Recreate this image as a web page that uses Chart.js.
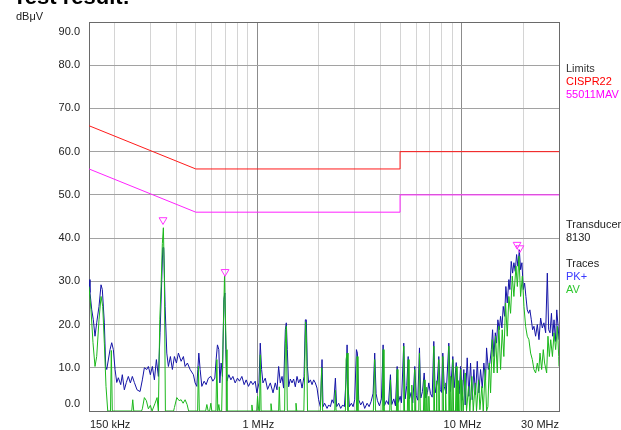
<!DOCTYPE html>
<html>
<head>
<meta charset="utf-8">
<script src="https://cdn.jsdelivr.net/npm/chart.js@4.4.1/dist/chart.umd.min.js"></script>
<style>
  html, body { margin: 0; padding: 0; background: #fff; }
  canvas { display: block; }
</style>
</head>
<body>
<canvas id="emiChart" width="621" height="430"></canvas>
<script>
// limit lines, [MHz, dBuV]
const cispr22Limit = [[0.15, 66], [0.5, 56], [5, 56], [5, 60], [30, 60]];
const mavLimit = [[0.15, 56], [0.5, 46], [5, 46], [5, 50], [30, 50]];

// PK+ trace [MHz, dBuV]
const pkTrace = [
  [0.150, 30.4], [0.1517, 27.4], [0.1547, 23.4], [0.1575, 21.1], [0.1605, 17.3], [0.1636, 20.4], [0.1679, 24.2], [0.1718, 29.2], [0.1743, 28.1], [0.1783, 20.4],
  [0.1811, 10.3], [0.1832, 9.6], [0.1901, 14.2], [0.1938, 15.8], [0.1974, 14.2], [0.2012, 9.6], [0.2051, 6.6], [0.2088, 7.7], [0.2145, 6.1], [0.2184, 8.4],
  [0.2234, 4.9], [0.2285, 6.6], [0.2337, 8.0], [0.2391, 6.5], [0.2445, 8.0], [0.2501, 6.6], [0.2578, 4.9], [0.2667, 4.5], [0.2737, 7.2], [0.2800, 10.0],
  [0.2877, 9.6], [0.2929, 10.3], [0.2996, 8.4], [0.3064, 10.3], [0.3135, 7.2], [0.3206, 11.9], [0.3279, 8.0], [0.3342, 18.1], [0.3407, 30.4], [0.3446, 37.8],
  [0.3485, 37.8], [0.3537, 24.2], [0.3605, 13.4], [0.3671, 10.3], [0.3755, 12.6], [0.3840, 9.6], [0.3929, 12.6], [0.4019, 11.1], [0.4110, 13.4], [0.4237, 11.5],
  [0.4348, 12.6], [0.4432, 10.3], [0.4549, 11.1], [0.4690, 9.6], [0.4867, 8.4], [0.4962, 6.5], [0.5058, 5.7], [0.5115, 9.6], [0.5173, 13.4], [0.5250, 9.6],
  [0.5352, 5.7], [0.5492, 6.9], [0.5617, 6.1], [0.5765, 7.6], [0.5923, 8.0], [0.6059, 6.9], [0.6197, 7.6], [0.6288, 11.9], [0.6382, 15.3], [0.6483, 14.2],
  [0.6557, 6.5], [0.6654, 11.1], [0.6753, 8.0], [0.6860, 25.8], [0.6937, 27.3], [0.7016, 14.2], [0.7096, 6.9], [0.7258, 8.4], [0.7424, 7.2], [0.7593, 8.0],
  [0.7793, 6.5], [0.7998, 7.6], [0.8181, 6.9], [0.8405, 8.0], [0.8626, 6.1], [0.8823, 7.2], [0.9056, 5.7], [0.9303, 6.9], [0.9516, 6.1], [0.9766, 6.9],
  [0.9955, 4.2],
  [1.019, 6.5], [1.034, 15.7], [1.050, 9.6], [1.066, 6.5], [1.094, 7.6], [1.123, 5.0], [1.158, 6.5], [1.194, 4.2], [1.225, 6.5], [1.249, 4.9],
  [1.272, 10.3], [1.296, 6.5], [1.322, 8.0], [1.345, 5.3], [1.372, 18.8], [1.387, 20.4], [1.403, 14.2], [1.424, 5.6], [1.451, 7.4], [1.479, 6.5],
  [1.506, 7.4], [1.535, 5.6], [1.565, 8.0], [1.594, 6.5], [1.625, 7.4], [1.656, 5.3], [1.694, 8.0], [1.719, 21.1], [1.738, 21.1], [1.758, 10.3],
  [1.784, 6.5], [1.819, 7.2], [1.854, 6.1], [1.888, 7.2], [1.924, 6.5], [1.961, 5.3], [1.997, 2.6], [2.036, 1.0], [2.075, 11.9], [2.098, 1.0],
  [2.137, 1.8], [2.196, 0.6], [2.236, 1.4], [2.279, 1.0], [2.323, 2.6], [2.366, 1.8], [2.412, 7.6], [2.447, 1.0], [2.503, 1.8], [2.560, 0.6],
  [2.619, 1.4], [2.670, 1.0], [2.721, 7.2], [2.752, 15.3], [2.783, 5.6], [2.824, 1.0], [2.889, 1.8], [2.945, 1.0], [2.999, 2.6], [3.057, 14.2],
  [3.091, 13.4], [3.137, 2.6], [3.208, 1.4], [3.281, 2.2], [3.356, 0.6], [3.449, 1.8], [3.528, 1.0], [3.608, 2.2], [3.690, 4.1], [3.757, 13.4],
  [3.817, 4.0], [3.874, 2.4], [3.963, 1.2], [4.053, 2.8], [4.131, 15.3], [4.192, 1.2], [4.288, 2.4], [4.386, 1.5], [4.486, 8.4], [4.553, 1.5],
  [4.657, 2.8], [4.747, 1.2], [4.839, 10.3], [4.910, 2.0], [5.006, 3.4], [5.079, 1.9], [5.213, 15.7], [5.296, 2.8], [5.394, 5.9], [5.479, 12.6],
  [5.559, 2.8], [5.667, 4.3], [5.771, 1.9], [5.902, 10.3], [5.996, 3.6], [6.106, 2.5], [6.223, 14.6], [6.317, 3.0], [6.437, 4.5], [6.562, 8.8],
  [6.682, 3.0], [6.811, 4.3], [6.912, 6.5], [7.047, 4.0], [7.182, 3.2], [7.314, 16.1], [7.429, 4.2], [7.599, 6.5], [7.737, 12.6], [7.861, 5.0],
  [7.977, 4.3], [8.095, 13.4], [8.225, 5.7], [8.413, 4.0], [8.663, 15.7], [8.830, 4.5], [9.063, 12.6], [9.206, 5.4], [9.418, 11.2], [9.591, 5.7],
  [9.741, 4.0], [9.887, 10.3],
  [10.08, 2.5], [10.26, 9.6], [10.42, 1.4], [10.66, 12.3], [10.86, 3.4], [11.07, 11.1], [11.28, 2.6], [11.49, 9.6], [11.71, 3.8], [11.94, 11.5],
  [12.16, 4.2], [12.39, 9.6], [12.63, 5.3], [12.86, 11.1], [13.11, 7.2], [13.26, 14.6], [13.52, 9.6], [13.76, 11.1], [13.99, 14.2], [14.19, 18.8],
  [14.40, 12.6], [14.63, 18.1], [14.84, 15.7], [15.06, 21.1], [15.30, 18.8], [15.53, 21.9], [15.76, 19.2], [16.00, 24.2], [16.25, 21.9], [16.48, 28.8],
  [16.74, 25.0], [17.05, 30.4], [17.24, 28.1], [17.51, 34.6], [17.78, 31.9], [18.04, 34.3], [18.32, 32.3], [18.60, 36.2], [18.88, 33.5], [19.18, 37.3],
  [19.46, 32.7], [19.75, 34.3], [20.07, 28.1], [20.36, 29.6], [20.66, 26.5], [20.98, 23.4], [21.30, 22.6], [21.61, 23.4], [21.96, 21.1], [22.28, 18.8],
  [22.62, 19.6], [23.05, 17.3], [23.50, 20.0], [23.94, 16.5], [24.39, 21.5], [24.86, 19.2], [25.31, 20.4], [25.81, 18.1], [26.30, 31.9], [26.70, 18.8],
  [27.11, 18.1], [27.55, 22.6], [27.93, 17.3], [28.37, 21.1], [28.83, 16.1], [29.25, 23.4], [29.69, 19.6], [30.0, 16.5]
];

// AV trace [MHz, dBuV]
const avTrace = [
  [0.150, 28.8], [0.1534, 23.4], [0.1569, 15.8], [0.1605, 10.3], [0.1636, 12.6], [0.1679, 21.1], [0.1718, 26.5], [0.1751, 24.2], [0.1783, 15.7], [0.1817, 5.7],
  [0.1853, 0], [0.1912, 0], [0.1929, 14.0], [0.1951, 0], [0.2428, 0], [0.2456, 2.6], [0.2484, 0], [0.2712, 0], [0.2737, 0.5], [0.2800, 3.1],
  [0.2864, 2.4], [0.2929, 0.5], [0.2996, 1.3], [0.3054, 0], [0.3159, 1.8], [0.3231, 3.1], [0.3279, 0], [0.3331, 21.1], [0.3381, 28.8], [0.3430, 38.8],
  [0.3469, 42.4], [0.3508, 31.2], [0.3549, 0], [0.3892, 0], [0.3929, 0.8], [0.4036, 3.1], [0.4142, 2.4], [0.4237, 2.6], [0.4333, 1.8], [0.4432, 2.6],
  [0.4533, 1.5], [0.4611, 0], [0.5103, 0], [0.5150, 10.3], [0.5203, 0], [0.5586, 0], [0.5663, 1.5], [0.5746, 0], [0.5844, 0], [0.5923, 1.8],
  [0.5990, 0], [0.6274, 0], [0.6339, 11.9], [0.6405, 0], [0.6483, 1.5], [0.6550, 0], [0.6692, 0], [0.6784, 14.2], [0.6910, 31.2], [0.7043, 14.2],
  [0.7104, 0], [0.9335, 0], [0.9410, 1.4], [0.9486, 0], [0.9933, 0], [1.003, 3.4], [1.017, 0], [1.026, 0], [1.034, 13.0], [1.044, 0],
  [1.158, 0], [1.167, 1.7], [1.178, 0], [1.272, 0], [1.282, 5.6], [1.292, 0], [1.361, 0], [1.372, 15.7], [1.387, 19.6], [1.403, 0],
  [1.535, 0], [1.547, 1.8], [1.560, 0], [1.690, 0], [1.705, 8.7], [1.724, 20.6], [1.743, 15.7], [1.762, 0], [2.036, 0], [2.066, 10.0],
  [2.089, 0], [2.394, 0], [2.412, 4.8], [2.431, 0], [2.700, 0], [2.721, 11.9], [2.752, 13.4], [2.780, 0], [3.057, 0], [3.081, 12.6],
  [3.109, 0], [3.701, 0], [3.757, 11.9], [3.790, 0],
  [4.09, 0], [4.131, 14.2], [4.17, 0], [4.45, 0], [4.486, 7.2], [4.53, 0], [4.80, 0], [4.839, 9.6], [4.88, 0],
  [5.17, 0], [5.213, 15.0], [5.26, 0], [5.43, 0], [5.479, 11.9], [5.53, 0], [5.67, 0], [5.71, 6.0], [5.75, 0],
  [5.86, 0], [5.902, 9.6], [5.95, 0], [6.17, 0], [6.223, 13.4], [6.28, 0], [6.51, 0], [6.562, 7.2], [6.62, 0],
  [6.70, 0], [6.75, 5.5], [6.80, 0], [6.86, 0], [6.912, 3.4], [6.97, 0], [7.25, 0], [7.314, 15.0], [7.38, 0],
  [7.50, 0], [7.54, 7.0], [7.58, 0], [7.67, 0], [7.737, 11.9], [7.80, 0], [8.03, 0], [8.095, 12.6], [8.16, 0],
  [8.30, 0], [8.35, 6.5], [8.40, 0], [8.59, 0], [8.663, 15.0], [8.74, 0], [8.80, 0], [8.85, 8.0], [8.92, 0],
  [8.99, 0], [9.063, 11.9], [9.14, 0], [9.34, 0], [9.418, 10.3], [9.50, 0], [9.55, 0], [9.61, 7.0], [9.67, 0],
  [9.80, 0], [9.887, 9.6], [9.97, 0],
  [10.03, 7.2], [10.19, 0], [10.42, 8.8], [10.58, 0], [10.82, 5.7], [10.98, 0], [11.23, 8.0], [11.41, 0], [11.67, 6.5], [11.84, 0],
  [12.12, 7.2], [12.30, 0.3], [12.57, 5.7], [12.77, 0], [13.06, 9.6], [13.26, 0], [13.46, 1.0], [13.67, 11.1], [13.87, 4.2], [14.14, 16.5],
  [14.40, 8.8], [14.68, 17.3], [14.96, 8.8], [15.23, 19.6], [15.53, 9.6], [15.82, 18.8], [16.11, 12.6], [16.43, 25.0], [16.74, 17.3], [17.05, 26.5],
  [17.38, 22.6], [17.72, 31.2], [18.04, 26.5], [18.47, 33.5], [18.76, 28.8], [19.10, 35.8], [19.46, 26.5], [19.84, 31.2], [20.21, 24.2], [20.59, 19.6],
  [20.98, 17.3], [21.37, 16.5], [21.78, 13.4], [22.21, 11.9], [22.62, 9.6], [23.05, 8.8], [23.50, 11.1], [23.86, 9.2], [24.22, 13.4], [24.67, 9.6],
  [25.13, 14.2], [25.50, 11.1], [26.10, 8.8], [26.49, 17.3], [26.91, 12.6], [27.33, 16.5], [27.86, 12.6], [28.37, 18.1], [28.89, 14.2], [29.46, 19.6],
  [29.90, 12.6], [30.0, 10.3]
];

// peak markers (triangles)
const markerPoints = [[0.3455, 44.2], [0.6952, 32.2], [18.7, 38.5], [19.3, 37.7]];

// axis ticks and labels
const gridFreqs = [0.2, 0.3, 0.4, 0.5, 0.6, 0.7, 0.8, 0.9, 1, 2, 3, 4, 5, 6, 7, 8, 9, 10, 20, 30];
const majorFreqs = [1, 10];
const xLabels = [
  { f: 0.15, text: "150 kHz", align: "left" },
  { f: 1, text: "1 MHz", align: "center" },
  { f: 10, text: "10 MHz", align: "center" },
  { f: 30, text: "30 MHz", align: "right" }
];
const yLabels = [0, 10, 20, 30, 40, 50, 60, 70, 80, 90];

const FONT = '"Liberation Sans", Arial, sans-serif';
const toXY = arr => arr.map(p => ({ x: p[0], y: p[1] }));

const decorPlugin = {
  id: "decor",
  beforeDatasetsDraw(chart) {
    const { ctx, chartArea: a } = chart;
    ctx.save();
    ctx.strokeStyle = "#6a6a6a";
    ctx.lineWidth = 1;
    ctx.strokeRect(Math.round(a.left) + 0.5, Math.round(a.top) + 0.5,
      Math.round(a.right - a.left), Math.round(a.bottom - a.top));
    ctx.restore();
  },
  afterDraw(chart) {
    const { ctx, chartArea: a } = chart;
    const xs = chart.scales.x, ys = chart.scales.y;
    ctx.save();

    // title, cut off by the top edge
    ctx.fillStyle = "#000";
    ctx.font = "bold 22px " + FONT;
    ctx.textAlign = "left";
    ctx.textBaseline = "alphabetic";
    ctx.fillText("Test result:", 13, 4);

    ctx.font = "11px " + FONT;
    ctx.fillStyle = "#222";
    ctx.textBaseline = "middle";
    ctx.fillText("dBμV", 16, 17);

    // y labels
    ctx.textAlign = "right";
    yLabels.forEach(v => {
      let y = ys.getPixelForValue(v);
      y = Math.min(Math.max(y, a.top + 9.5), a.bottom - 7.5);
      ctx.fillText(v.toFixed(1), 80, y);
    });

    // x labels
    xLabels.forEach(l => {
      let x = xs.getPixelForValue(l.f);
      if (l.align === "left") x += 1;
      if (l.align === "center") x += 1;
      ctx.textAlign = l.align;
      ctx.fillText(l.text, x, 425);
    });

    // right-hand legend
    const lx = 566;
    ctx.textAlign = "left";
    const legend = [
      ["Limits", "#333", 69], ["CISPR22", "#ff0000", 82], ["55011MAV", "#ff00ff", 95],
      ["Transducer", "#222", 225], ["8130", "#222", 238],
      ["Traces", "#222", 264], ["PK+", "#3a3aff", 277], ["AV", "#2ec82e", 290]
    ];
    legend.forEach(([t, c, y]) => { ctx.fillStyle = c; ctx.fillText(t, lx, y); });
    ctx.restore();
  }
};

new Chart(document.getElementById("emiChart").getContext("2d"), {
  type: "line",
  data: {
    datasets: [
      { label: "CISPR22", data: toXY(cispr22Limit), borderColor: "#ff1a1a", borderWidth: 1, pointRadius: 0, order: 0 },
      { label: "55011MAV", data: toXY(mavLimit), borderColor: "#ff22ff", borderWidth: 1, pointRadius: 0, order: 0 },
      { label: "Markers", data: toXY(markerPoints), showLine: false, pointStyle: "triangle", rotation: 180,
        pointRadius: 4.5, borderColor: "#ff33ff", backgroundColor: "rgba(0,0,0,0)", pointBorderWidth: 1, order: 0 },
      { label: "AV", data: toXY(avTrace), borderColor: "#1cb81c", borderWidth: 1, pointRadius: 0, order: 1 },
      { label: "PK+", data: toXY(pkTrace), borderColor: "#1414a6", borderWidth: 1, pointRadius: 0, order: 2 }
    ]
  },
  options: {
    responsive: false,
    animation: false,
    events: [],
    layout: { padding: { left: 89, right: 62, top: 22, bottom: 19 } },
    elements: { line: { tension: 0 } },
    plugins: { legend: { display: false }, tooltip: { enabled: false } },
    scales: {
      x: {
        type: "logarithmic",
        min: 0.15,
        max: 30,
        afterBuildTicks: axis => { axis.ticks = gridFreqs.map(v => ({ value: v })); },
        ticks: { display: false },
        border: { display: false },
        grid: {
          drawTicks: false,
          lineWidth: 1,
          color: c => (c.tick && majorFreqs.includes(c.tick.value)) ? "#8c8c8c" : "#d4d4d4"
        }
      },
      y: {
        min: 0,
        max: 90,
        ticks: { display: false, stepSize: 10 },
        border: { display: false },
        grid: { drawTicks: false, lineWidth: 1, color: "#a2a2a2" }
      }
    }
  },
  plugins: [decorPlugin]
});
</script>
</body>
</html>
